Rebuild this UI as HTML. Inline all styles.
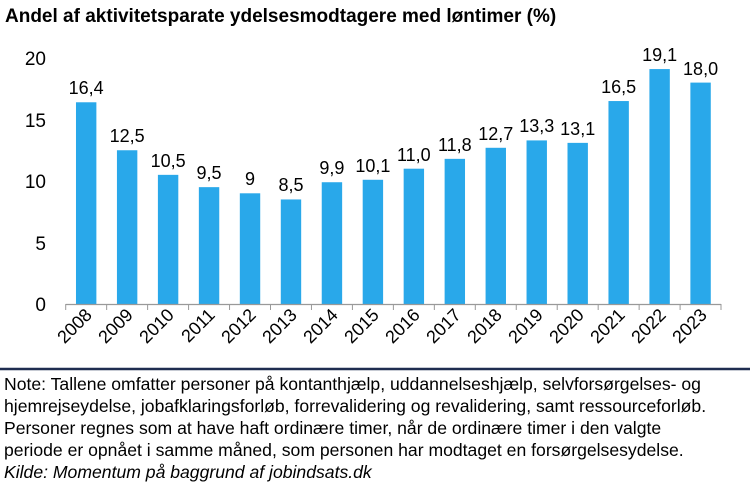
<!DOCTYPE html>
<html><head><meta charset="utf-8"><style>
body{margin:0;width:750px;height:493px;background:#fff;overflow:hidden;font-family:"Liberation Sans",sans-serif;}
.t{position:absolute;left:5px;top:6px;font-size:19px;font-weight:bold;color:#000;}
.n{position:absolute;left:4px;top:373px;font-size:17.6px;line-height:22px;color:#000;white-space:nowrap;}
</style></head><body>
<div class="t">Andel af aktivitetsparate ydelsesmodtagere med løntimer (%)</div>
<svg width="750" height="493" style="position:absolute;left:0;top:0" font-family="Liberation Sans, sans-serif">
<g font-size="19" fill="#000" text-anchor="end">
<text x="46" y="65">20</text><text x="46" y="127">15</text><text x="46" y="188">10</text><text x="46" y="250">5</text><text x="46" y="311">0</text>
</g>
<g fill="#29a8ea">
<rect x="75.98" y="102.28" width="20.4" height="201.72"/>
<rect x="116.94" y="150.25" width="20.4" height="153.75"/>
<rect x="157.9" y="174.85" width="20.4" height="129.15"/>
<rect x="198.86" y="187.15" width="20.4" height="116.85"/>
<rect x="239.82" y="193.3" width="20.4" height="110.7"/>
<rect x="280.78" y="199.45" width="20.4" height="104.55"/>
<rect x="321.74" y="182.23" width="20.4" height="121.77"/>
<rect x="362.7" y="179.77" width="20.4" height="124.23"/>
<rect x="403.66" y="168.7" width="20.4" height="135.3"/>
<rect x="444.62" y="158.86" width="20.4" height="145.14"/>
<rect x="485.58" y="147.79" width="20.4" height="156.21"/>
<rect x="526.54" y="140.41" width="20.4" height="163.59"/>
<rect x="567.5" y="142.87" width="20.4" height="161.13"/>
<rect x="608.46" y="101.05" width="20.4" height="202.95"/>
<rect x="649.42" y="69.07" width="20.4" height="234.93"/>
<rect x="690.38" y="82.6" width="20.4" height="221.4"/>
</g>
<g font-size="18" text-anchor="middle" fill="#000">
<text x="86.18" y="94">16,4</text>
<text x="127.14" y="142">12,5</text>
<text x="168.1" y="167">10,5</text>
<text x="209.06" y="179">9,5</text>
<text x="250.02" y="185">9</text>
<text x="290.98" y="191">8,5</text>
<text x="331.94" y="174">9,9</text>
<text x="372.9" y="172">10,1</text>
<text x="413.86" y="161">11,0</text>
<text x="454.82" y="151">11,8</text>
<text x="495.78" y="140">12,7</text>
<text x="536.74" y="132">13,3</text>
<text x="577.7" y="135">13,1</text>
<text x="618.66" y="93">16,5</text>
<text x="659.62" y="61">19,1</text>
<text x="700.58" y="75">18,0</text>
</g>
<line x1="65.7" y1="304.5" x2="721" y2="304.5" stroke="#999" stroke-width="1.2"/>
<g stroke="#999">
<line x1="65.7" y1="304" x2="65.7" y2="310"/><line x1="106.66" y1="304" x2="106.66" y2="310"/><line x1="147.62" y1="304" x2="147.62" y2="310"/><line x1="188.58" y1="304" x2="188.58" y2="310"/><line x1="229.54" y1="304" x2="229.54" y2="310"/><line x1="270.5" y1="304" x2="270.5" y2="310"/><line x1="311.46" y1="304" x2="311.46" y2="310"/><line x1="352.42" y1="304" x2="352.42" y2="310"/><line x1="393.38" y1="304" x2="393.38" y2="310"/><line x1="434.34" y1="304" x2="434.34" y2="310"/><line x1="475.3" y1="304" x2="475.3" y2="310"/><line x1="516.26" y1="304" x2="516.26" y2="310"/><line x1="557.22" y1="304" x2="557.22" y2="310"/><line x1="598.18" y1="304" x2="598.18" y2="310"/><line x1="639.14" y1="304" x2="639.14" y2="310"/><line x1="680.1" y1="304" x2="680.1" y2="310"/><line x1="721" y1="304" x2="721" y2="310"/>
</g>
<g font-size="18" text-anchor="end" fill="#000">
<text transform="translate(93,316) rotate(-45)">2008</text>
<text transform="translate(134,316) rotate(-45)">2009</text>
<text transform="translate(175,316) rotate(-45)">2010</text>
<text transform="translate(216,316) rotate(-45)">2011</text>
<text transform="translate(257,316) rotate(-45)">2012</text>
<text transform="translate(298,316) rotate(-45)">2013</text>
<text transform="translate(339,316) rotate(-45)">2014</text>
<text transform="translate(380,316) rotate(-45)">2015</text>
<text transform="translate(421,316) rotate(-45)">2016</text>
<text transform="translate(462,316) rotate(-45)">2017</text>
<text transform="translate(503,316) rotate(-45)">2018</text>
<text transform="translate(544,316) rotate(-45)">2019</text>
<text transform="translate(585,316) rotate(-45)">2020</text>
<text transform="translate(626,316) rotate(-45)">2021</text>
<text transform="translate(667,316) rotate(-45)">2022</text>
<text transform="translate(708,316) rotate(-45)">2023</text>
</g>
<line x1="0" y1="369" x2="750" y2="369" stroke="#1f2d50" stroke-width="2.5"/>
</svg>
<div class="n">Note: Tallene omfatter personer på kontanthjælp, uddannelseshjælp, selvforsørgelses- og<br>hjemrejseydelse, jobafklaringsforløb, forrevalidering og revalidering, samt ressourceforløb.<br>Personer regnes som at have haft ordinære timer, når de ordinære timer i den valgte<br>periode er opnået i samme måned, som personen har modtaget en forsørgelsesydelse.<br><i>Kilde: Momentum på baggrund af jobindsats.dk</i></div>
</body></html>
